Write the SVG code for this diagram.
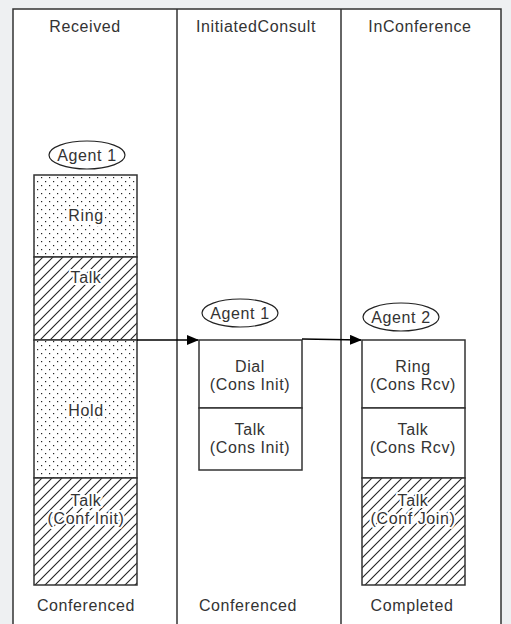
<svg xmlns="http://www.w3.org/2000/svg" width="511" height="624" viewBox="0 0 511 624">
<defs>
<pattern id="dots" width="8" height="8" patternUnits="userSpaceOnUse">
<rect width="8" height="8" fill="#fff"/>
<rect x="1" y="1" width="1.2" height="1.2" fill="#222"/>
<rect x="5" y="5" width="1.2" height="1.2" fill="#222"/>
</pattern>
<pattern id="hatch" width="10" height="10" patternUnits="userSpaceOnUse">
<rect width="10" height="10" fill="#fff"/>
<path d="M-1,11 L11,-1 M-6,6 L6,-6 M4,16 L16,4" stroke="#222" stroke-width="1.1"/>
</pattern>
<marker id="arr" markerWidth="12" markerHeight="10" refX="11" refY="5" orient="auto" markerUnits="userSpaceOnUse">
<path d="M0,0 L12,5 L0,10 Z" fill="#000"/>
</marker>
<style>
text{font-family:"Liberation Sans",Arial,sans-serif;font-size:16px;letter-spacing:0.6px;fill:#333;text-anchor:middle}
.h{stroke:#fff;stroke-width:4;paint-order:stroke;stroke-linejoin:round}
.box{stroke:#333;stroke-width:1.5}
.ell{fill:#fff;stroke:#222;stroke-width:1.2}
.frame{fill:#fff;stroke:#333;stroke-width:1.5}
</style>
</defs>
<rect width="511" height="624" fill="#eef0f2"/>
<rect class="frame" x="13" y="9" width="488" height="630"/>
<line x1="177" y1="9" x2="177" y2="624" stroke="#333" stroke-width="1.5"/>
<line x1="341" y1="9" x2="341" y2="624" stroke="#333" stroke-width="1.5"/>

<g id="headers">
<text x="85" y="32">Received</text>
<text x="256" y="32">InitiatedConsult</text>
<text x="420" y="32">InConference</text>
</g>

<g id="agent1-left">
<ellipse class="ell" cx="87" cy="155" rx="38" ry="14"/>
<text x="87" y="161">Agent 1</text>
</g>
<g id="received-ring">
<rect class="box" x="34" y="175" width="103" height="82" fill="url(#dots)"/>
<text class="h" x="86" y="221">Ring</text>
</g>
<g id="received-talk">
<rect class="box" x="34" y="257" width="103" height="83" fill="url(#hatch)"/>
<text class="h" x="86" y="283">Talk</text>
</g>
<g id="received-hold">
<rect class="box" x="34" y="340" width="103" height="138" fill="url(#dots)"/>
<text class="h" x="86" y="416">Hold</text>
</g>
<g id="received-confinit">
<rect class="box" x="34" y="478" width="103" height="107" fill="url(#hatch)"/>
<text class="h" x="86" y="506">Talk</text>
<text class="h" x="86" y="524">(Conf Init)</text>
</g>

<g id="agent1-mid">
<ellipse class="ell" cx="240" cy="313" rx="38" ry="14"/>
<text x="240" y="319">Agent 1</text>
</g>
<g id="consult-dial">
<rect class="box" x="199" y="340" width="103" height="68" fill="#fff"/>
<text x="250" y="372">Dial</text>
<text x="250" y="390">(Cons Init)</text>
</g>
<g id="consult-talk">
<rect class="box" x="199" y="408" width="103" height="62" fill="#fff"/>
<text x="250" y="435">Talk</text>
<text x="250" y="453">(Cons Init)</text>
</g>

<g id="agent2">
<ellipse class="ell" cx="401" cy="317" rx="38" ry="14"/>
<text x="401" y="323">Agent 2</text>
</g>
<g id="conf-ring">
<rect class="box" x="362" y="340" width="103" height="68" fill="#fff"/>
<text x="413" y="372">Ring</text>
<text x="413" y="390">(Cons Rcv)</text>
</g>
<g id="conf-talk">
<rect class="box" x="362" y="408" width="103" height="70" fill="#fff"/>
<text x="413" y="435">Talk</text>
<text x="413" y="453">(Cons Rcv)</text>
</g>
<g id="conf-join">
<rect class="box" x="362" y="478" width="103" height="107" fill="url(#hatch)"/>
<text class="h" x="413" y="506">Talk</text>
<text class="h" x="413" y="524">(Conf Join)</text>
</g>

<g id="connectors">
<line x1="137" y1="340" x2="198" y2="340" stroke="#000" stroke-width="1.3" marker-end="url(#arr)"/>
<line x1="302" y1="339" x2="361" y2="340" stroke="#000" stroke-width="1.3" marker-end="url(#arr)"/>
</g>

<g id="footers">
<text x="86" y="611">Conferenced</text>
<text x="248" y="611">Conferenced</text>
<text x="412" y="611">Completed</text>
</g>
</svg>
